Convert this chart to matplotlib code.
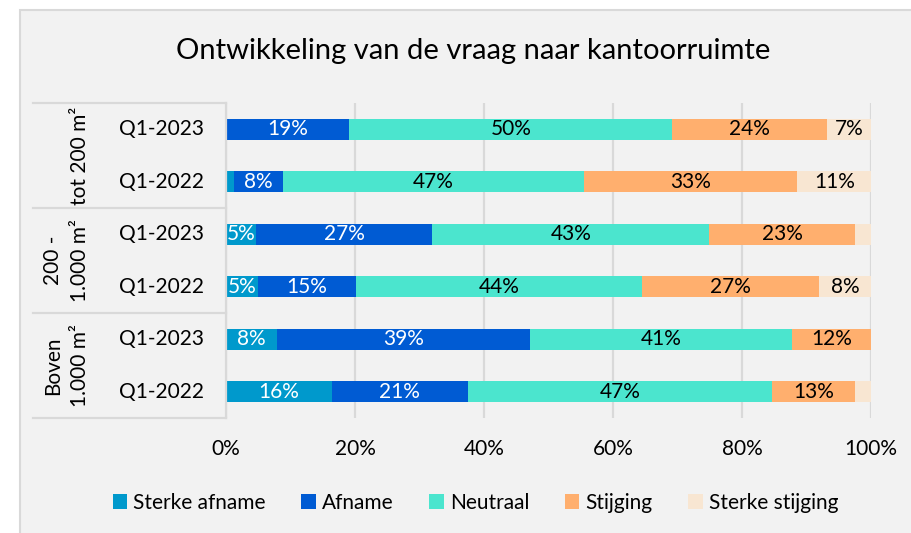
"""Stacked horizontal bar chart: ontwikkeling van de vraag naar kantoorruimte."""

import matplotlib

matplotlib.use("Agg")
import matplotlib.pyplot as plt
from matplotlib.patches import Patch, Rectangle

# Rows from top to bottom.
groups = ["tot 200 m²", "200 -\n1.000 m²", "Boven\n1.000 m²"]
periods = ["Q1-2023", "Q1-2022", "Q1-2023", "Q1-2022", "Q1-2023", "Q1-2022"]

series_names = ["Sterke afname", "Afname", "Neutraal", "Stijging", "Sterke stijging"]
sterke_afname = [0.0, 1.2, 4.7, 5.0, 7.9, 16.4]
afname = [19.1, 7.6, 27.3, 15.1, 39.2, 21.1]
neutraal = [50.1, 46.7, 42.9, 44.4, 40.6, 47.1]
stijging = [24.0, 33.1, 22.6, 27.4, 12.3, 12.9]
sterke_stijging = [6.8, 11.4, 2.5, 8.1, 0.0, 2.5]

x_ticks = [0, 20, 40, 60, 80, 100]

COLORS = ["#0099CC", "#005BD3", "#4BE5CE", "#FFAF6E", "#F8E6D2"]
LABEL_COLORS = ["white", "white", "black", "black", "black"]
BACKGROUND = "#F2F2F2"
LINE = "#D9D9D9"
FONT = "Lato"
SIZE = 15

plt.rcParams["font.family"] = [FONT, "DejaVu Sans"]

fig = plt.figure(figsize=(9.11, 5.33), dpi=100, facecolor="white")

# Grey chart area with a thin border, offset from the top-left corner.
fig.patches.append(
    Rectangle(
        (20 / 911, -0.01), 1.0, 1 - 10 / 533 + 0.01,
        transform=fig.transFigure, facecolor=BACKGROUND,
        edgecolor=LINE, linewidth=1.5, zorder=-5,
    )
)

ax = fig.add_axes([226 / 911, 1 - 418 / 533, 645 / 911, 315 / 533])
ax.set_facecolor("none")

rows = list(range(len(periods)))
all_series = [sterke_afname, afname, neutraal, stijging, sterke_stijging]
left = [0.0] * len(rows)
for name, values, color, text_color in zip(series_names, all_series, COLORS, LABEL_COLORS):
    ax.barh(rows, values, left=left, height=0.4, color=color, label=name, zorder=2)
    for row, value, start in zip(rows, values, left):
        if value >= 4:
            ax.text(start + value / 2, row, f"{value:.0f}%", ha="center", va="center",
                    color=text_color, fontsize=SIZE, zorder=3)
    left = [a + b for a, b in zip(left, values)]

ax.set_xlim(0, 100)
ax.set_ylim(len(rows) - 0.5, -0.5)
ax.set_xticks(x_ticks)
ax.set_xticklabels([f"{t}%" for t in x_ticks], fontsize=SIZE)
ax.set_yticks([])
ax.tick_params(axis="x", length=0, pad=15)
ax.xaxis.grid(True, color=LINE, linewidth=1.6, zorder=0)
ax.set_axisbelow(True)
for spine in ax.spines.values():
    spine.set_visible(False)

# Two-level category table to the left of the bars.
table_left = (33 - 226) / 645
trans = ax.get_yaxis_transform()
for y in [-0.5, 1.5, 3.5, 5.5]:
    ax.plot([table_left, 0], [y, y], color=LINE, linewidth=1.6, transform=trans, clip_on=False)
ax.plot([0, 0], [-0.5, 5.5], color=LINE, linewidth=1.6, transform=trans, clip_on=False)

for row, period in zip(rows, periods):
    ax.text((162 - 226) / 645, row, period, ha="center", va="center",
            fontsize=SIZE, transform=trans)

for index, group in enumerate(groups):
    ax.text((90 - 226) / 645, index * 2 + 0.5, group, ha="right", va="center",
            rotation=90, multialignment="center", fontsize=SIZE,
            linespacing=1.45, transform=trans)

fig.text(0.519, 1 - 51 / 533, "Ontwikkeling van de vraag naar kantoorruimte",
         ha="center", va="center", fontsize=21)

handles = [Patch(facecolor=c, label=n) for c, n in zip(COLORS, series_names)]
fig.legend(handles=handles, loc="center", bbox_to_anchor=(0.522, 1 - 503 / 533),
           ncol=5, frameon=False, fontsize=SIZE, handlelength=0.7, handleheight=0.7,
           handletextpad=0.3, columnspacing=1.7)

fig.savefig("out.png", dpi=100, facecolor="white")
